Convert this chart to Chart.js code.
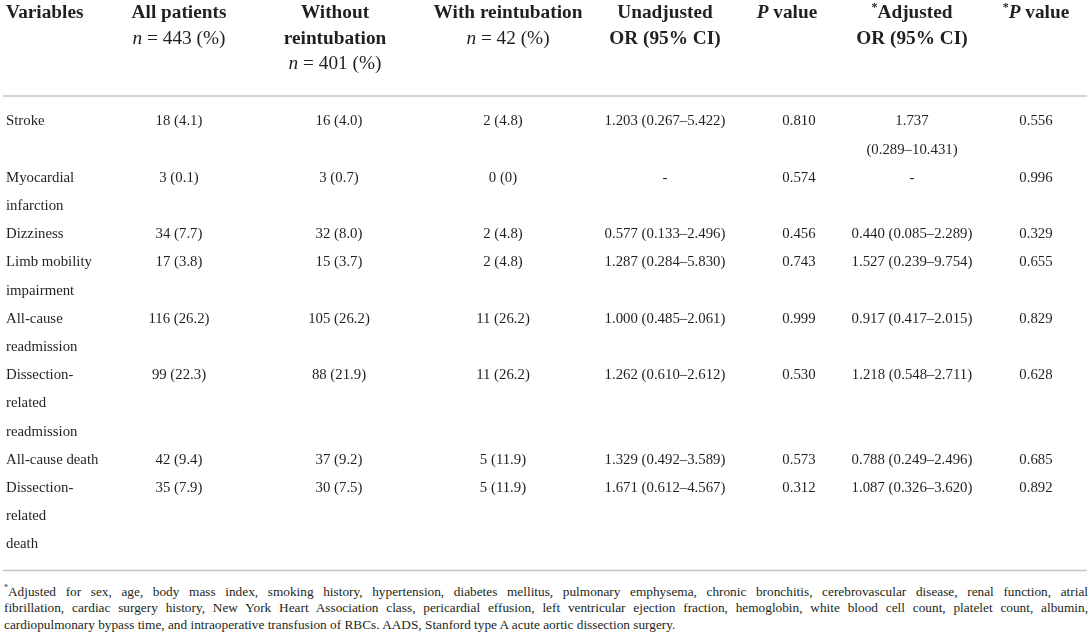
<!DOCTYPE html>
<html><head><meta charset="utf-8">
<script src="https://cdn.jsdelivr.net/npm/chart.js@4.4.1/dist/chart.umd.min.js"></script>
<style>
html,body{margin:0;padding:0;background:#fff;}
#wrap{position:relative;width:1091px;height:642px;overflow:hidden;background:#fff;}
#c{position:absolute;left:0;top:0;}
#foot{position:absolute;left:4px;top:584px;width:1084px;font-family:"Liberation Serif","DejaVu Serif",serif;font-size:13.3px;line-height:16.3px;color:#231f20;}
#foot div{text-align:justify;text-align-last:justify;}
#foot div.last{text-align-last:left;}
#foot sup{font-size:8px;vertical-align:6px;line-height:0;}
</style></head>
<body><div id="wrap"><canvas id="c" width="1091" height="580"></canvas><div id="foot"></div></div>
<script>
// ---------- DATA ----------
const columnHeaders = [
  ["Variables"],
  ["All patients", "<i>n</i> = 443 (%)"],
  ["Without", "reintubation", "<i>n</i> = 401 (%)"],
  ["With reintubation", "<i>n</i> = 42 (%)"],
  ["Unadjusted", "OR (95% CI)"],
  ["<i>P</i> value"],
  ["<sup>*</sup>Adjusted", "OR (95% CI)"],
  ["<sup>*</sup><i>P</i> value"]
];
const variables = [
  ["Stroke"],
  ["Myocardial", "infarction"],
  ["Dizziness"],
  ["Limb mobility", "impairment"],
  ["All-cause", "readmission"],
  ["Dissection-", "related", "readmission"],
  ["All-cause death"],
  ["Dissection-", "related", "death"]
];
const allPatients = ["18 (4.1)", "3 (0.1)", "34 (7.7)", "17 (3.8)", "116 (26.2)", "99 (22.3)", "42 (9.4)", "35 (7.9)"];
const withoutReintubation = ["16 (4.0)", "3 (0.7)", "32 (8.0)", "15 (3.7)", "105 (26.2)", "88 (21.9)", "37 (9.2)", "30 (7.5)"];
const withReintubation = ["2 (4.8)", "0 (0)", "2 (4.8)", "2 (4.8)", "11 (26.2)", "11 (26.2)", "5 (11.9)", "5 (11.9)"];
const unadjustedOR = ["1.203 (0.267–5.422)", "-", "0.577 (0.133–2.496)", "1.287 (0.284–5.830)", "1.000 (0.485–2.061)", "1.262 (0.610–2.612)", "1.329 (0.492–3.589)", "1.671 (0.612–4.567)"];
const pValue = ["0.810", "0.574", "0.456", "0.743", "0.999", "0.530", "0.573", "0.312"];
const adjustedOR = [["1.737", "(0.289–10.431)"], ["-"], ["0.440 (0.085–2.289)"], ["1.527 (0.239–9.754)"], ["0.917 (0.417–2.015)"], ["1.218 (0.548–2.711)"], ["0.788 (0.249–2.496)"], ["1.087 (0.326–3.620)"]];
const adjustedP = ["0.556", "0.996", "0.329", "0.655", "0.829", "0.628", "0.685", "0.892"];
const footnoteLines = [
  "<sup>*</sup>Adjusted for sex, age, body mass index, smoking history, hypertension, diabetes mellitus, pulmonary emphysema, chronic bronchitis, cerebrovascular disease, renal function, atrial",
  "fibrillation, cardiac surgery history, New York Heart Association class, pericardial effusion, left ventricular ejection fraction, hemoglobin, white blood cell count, platelet count, albumin,",
  "cardiopulmonary bypass time, and intraoperative transfusion of RBCs. AADS, Stanford type A acute aortic dissection surgery."
];

// ---------- LAYOUT ----------
const FONT = '"Liberation Serif","DejaVu Serif",serif';
const TEXT = '#231f20';
const RULE = '#c4c4c4';
const HEAD_SIZE = 19.3, CELL_SIZE = 14.8;
const headerX = [6, 179, 335, 508, 665, 787, 912, 1036];
const cellX   = [6, 179, 339, 503, 665, 799, 912, 1036];
const headerLinePos = [-3.83, -2.926, -2.039];   // in body-line units
const ruleTop = -0.904, ruleBottom = 15.922;
const Y_MIN = -4.3085, Y_MAX = 16.259;

// ---------- BUILD POINTS ----------
const headerPts = [];
columnHeaders.forEach((lines, c) => {
  lines.forEach((t, li) => {
    headerPts.push({x: headerX[c], y: headerLinePos[li], text: t, align: c === 0 ? 'left' : 'center',
      bold: t.indexOf('<i>n</i>') < 0});
  });
});
const cellPts = [];
let line = 0;
const bodyCols = [allPatients, withoutReintubation, withReintubation, unadjustedOR, pValue, adjustedOR, adjustedP];
variables.forEach((v, r) => {
  const cols = [v].concat(bodyCols.map(a => Array.isArray(a[r]) ? a[r] : [a[r]]));
  let span = 1;
  cols.forEach((lines, c) => {
    lines.forEach((t, li) => {
      cellPts.push({x: cellX[c], y: line + li, text: t, align: c === 0 ? 'left' : 'center', bold: false});
    });
    span = Math.max(span, lines.length);
  });
  line += span;
});

function parseRich(s) {
  const parts = s.split(/(<i>.*?<\/i>|<sup>.*?<\/sup>)/).filter(p => p.length);
  return parts.map(p => {
    if (p.startsWith('<i>')) return {t: p.slice(3, -4), italic: true};
    if (p.startsWith('<sup>')) return {t: p.slice(5, -6), sup: true};
    return {t: p};
  });
}
function drawRich(ctx, s, x, y, align, size, bold) {
  const segs = parseRich(s);
  const fonts = segs.map(g => (g.italic ? 'italic ' : '') + (bold ? 'bold ' : '') + (g.sup ? size * 0.62 : size) + 'px ' + FONT);
  let total = 0;
  const widths = segs.map((g, i) => { ctx.font = fonts[i]; const w = ctx.measureText(g.t).width; total += w; return w; });
  let cx = align === 'center' ? x - total / 2 : x;
  segs.forEach((g, i) => {
    ctx.font = fonts[i];
    ctx.fillText(g.t, cx, g.sup ? y - size * 0.28 : y);
    cx += widths[i];
  });
}

const tablePlugin = {
  id: 'tableText',
  afterDatasetsDraw(chart) {
    const ctx = chart.ctx;
    ctx.save();
    ctx.fillStyle = TEXT;
    ctx.textBaseline = 'middle';
    ctx.textAlign = 'left';
    chart.data.datasets.forEach((ds, di) => {
      const meta = chart.getDatasetMeta(di);
      if (ds.kind === 'rule') return;
      meta.data.forEach((el, i) => {
        const raw = ds.data[i];
        drawRich(ctx, raw.text, el.x, el.y, raw.align, ds.kind === 'header' ? HEAD_SIZE : CELL_SIZE, raw.bold);
      });
    });
    ctx.restore();
  }
};

new Chart(document.getElementById('c'), {
  type: 'scatter',
  data: {
    datasets: [
      {kind: 'header', data: headerPts, pointRadius: 0, showLine: false},
      {kind: 'cell', data: cellPts, pointRadius: 0, showLine: false},
      {kind: 'rule', type: 'line', data: [{x: 3, y: ruleTop}, {x: 1087, y: ruleTop}], borderColor: RULE, borderWidth: 1.3, pointRadius: 0},
      {kind: 'rule', type: 'line', data: [{x: 3, y: ruleBottom}, {x: 1087, y: ruleBottom}], borderColor: RULE, borderWidth: 1.3, pointRadius: 0}
    ]
  },
  options: {
    responsive: false,
    animation: false,
    events: [],
    layout: {padding: 0},
    plugins: {legend: {display: false}, tooltip: {enabled: false}},
    scales: {
      x: {type: 'linear', min: 0, max: 1091, display: false},
      y: {type: 'linear', min: Y_MIN, max: Y_MAX, reverse: true, display: false}
    }
  },
  plugins: [tablePlugin]
});

const foot = document.getElementById('foot');
footnoteLines.forEach((t, i) => {
  const d = document.createElement('div');
  d.innerHTML = t;
  if (i === footnoteLines.length - 1) d.className = 'last';
  foot.appendChild(d);
});
</script>
</body></html>
